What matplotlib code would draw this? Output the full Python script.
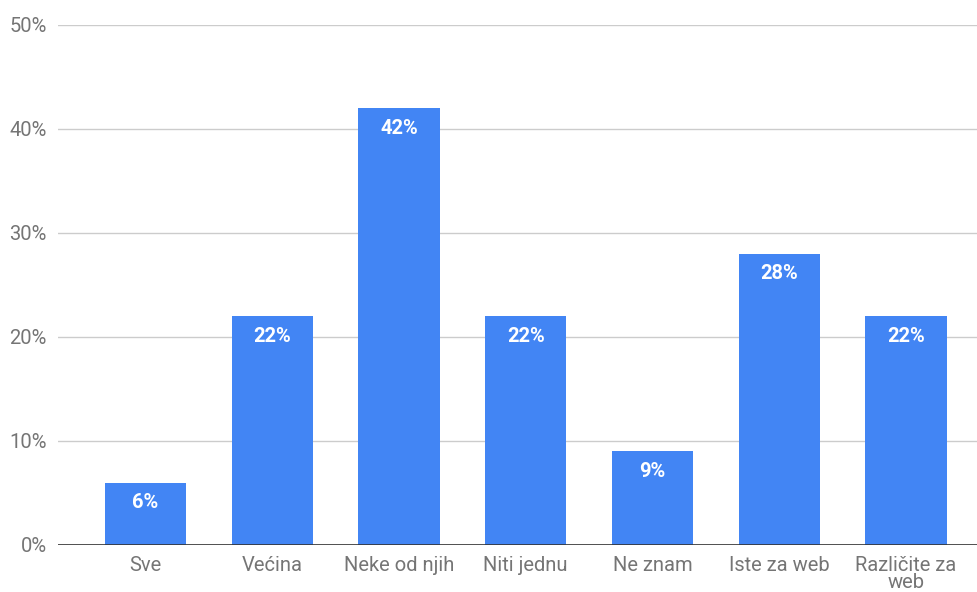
import matplotlib

matplotlib.use("Agg")
import matplotlib.pyplot as plt
import numpy as np

categories = ["Sve", "Većina", "Neke od njih", "Niti jednu", "Ne znam",
              "Iste za web", "Različite za\nweb"]
values = [6, 22, 42, 22, 9, 28, 22]
yticks = [0, 10, 20, 30, 40, 50]

plt.rcParams["font.family"] = ["Roboto", "DejaVu Sans"]

fig = plt.figure(figsize=(9.77, 5.92), dpi=100)
ax = fig.add_axes([58 / 977, 47 / 592, 1 - 58 / 977, 520 / 592])

x = np.arange(len(categories))
bars = ax.bar(x, values, width=0.64, color="#4285f4", zorder=3)

for b, v in zip(bars, values):
    ax.annotate(f"{v}%", (b.get_x() + b.get_width() / 2, v),
                xytext=(0, -14.5), textcoords="offset points",
                ha="center", va="center", color="white",
                fontsize=14.5, fontweight="bold", zorder=4)

ax.set_xlim(-0.69, 6.56)
ax.set_ylim(0, 50)
ax.set_yticks(yticks)
ax.set_yticklabels([f"{t}%" for t in yticks])
ax.set_xticks(x)
ax.set_xticklabels(categories, linespacing=0.88)

ax.grid(axis="y", color="#cccccc", linewidth=1, zorder=0)
ax.axhline(0, color="#333333", linewidth=1.2, zorder=5)
for s in ax.spines.values():
    s.set_visible(False)
ax.tick_params(length=0, colors="#757575", labelsize=14.5)
ax.tick_params(axis="y", pad=8)
ax.tick_params(axis="x", pad=8)

fig.savefig("out.png", dpi=100)
